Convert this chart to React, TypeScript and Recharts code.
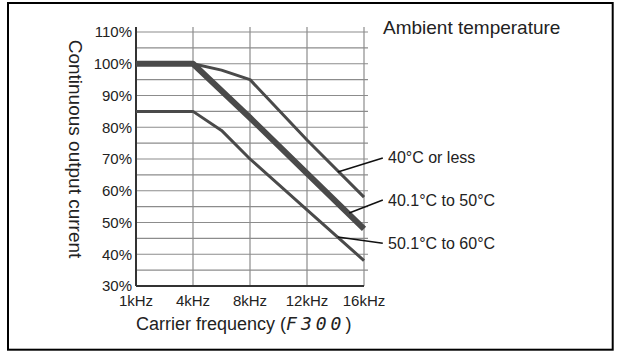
import React from "react";
import { LineChart, Line, XAxis, YAxis, ReferenceLine } from "recharts";

// carrier frequency points; axisPos is the slot on the evenly spaced category axis
const freqLabels = ["1kHz", "4kHz", "8kHz", "12kHz", "16kHz"];
const axisPos = [0, 1, 1.5, 2, 3, 4];

const upTo40 = [100, 100, 98, 95, 76, 58];
const from40to50 = [100, 100, 91.5, 83, 65.5, 48];
const from50to60 = [85, 85, 79, 70, 54, 38];

const yTicks = [30, 40, 50, 60, 70, 80, 90, 100, 110];
const gridY = [35, 40, 45, 50, 55, 60, 65, 70, 75, 80, 85, 90, 95, 100, 105, 110];
const gridX = [1, 2, 3, 4];

// leader lines from the curves to their labels: [x1, y1, x2, y2] in chart units
const leaders = [
  [3.54, 65.9, 4.33, 70.3],
  [3.74, 53.0, 4.33, 57.1],
  [3.54, 45.4, 4.33, 43.5],
];
const seriesNames = ["40°C or less", "40.1°C to 50°C", "50.1°C to 60°C"];

const data = axisPos.map((pos, i) => ({
  pos,
  a: upTo40[i],
  b: from40to50[i],
  c: from50to60[i],
}));

const font = "'Liberation Sans', Arial, sans-serif";
const lineColor = "#4a4a4a";
const gridColor = "#8c8c8c";

export default function App() {
  return (
    <div style={{ position: "absolute", left: 0, top: 0, width: 618, height: 351, background: "#fff" }}>
      <LineChart
        width={618}
        height={351}
        data={data}
        margin={{ top: 32, right: 254, bottom: 0, left: 0 }}
      >
        {gridY.map((v) => (
          <ReferenceLine
            key={"h" + v}
            segment={[{ x: 0, y: v }, { x: 4.07, y: v }]}
            stroke={gridColor}
            strokeWidth={1.2}
            ifOverflow="visible"
          />
        ))}
        {gridX.map((v) => (
          <ReferenceLine
            key={"v" + v}
            segment={[{ x: v, y: 30 }, { x: v, y: 111.6 }]}
            stroke={gridColor}
            strokeWidth={1.2}
            ifOverflow="visible"
          />
        ))}
        <ReferenceLine
          segment={[{ x: 0, y: 30 }, { x: 0, y: 111.6 }]}
          stroke="#333"
          strokeWidth={2}
          ifOverflow="visible"
        />
        <XAxis
          dataKey="pos"
          type="number"
          domain={[0, 4]}
          ticks={[0, 1, 2, 3, 4]}
          tickFormatter={(v: number) => freqLabels[v]}
          height={65}
          tickSize={0}
          tickMargin={9}
          axisLine={{ stroke: "#333", strokeWidth: 2 }}
          tick={{ fontSize: 15, fill: "#222", fontFamily: font }}
          interval={0}
        />
        <YAxis
          type="number"
          domain={[30, 110]}
          ticks={yTicks}
          tickFormatter={(v: number) => v + "%"}
          width={136}
          tickSize={0}
          tickMargin={4}
          axisLine={false}
          tick={{ fontSize: 15, fill: "#222", fontFamily: font }}
          interval={0}
        />
        <Line dataKey="a" stroke={lineColor} strokeWidth={3} dot={false} isAnimationActive={false} strokeLinejoin="round" />
        <Line dataKey="b" stroke={lineColor} strokeWidth={6} dot={false} isAnimationActive={false} strokeLinejoin="round" />
        <Line dataKey="c" stroke={lineColor} strokeWidth={3} dot={false} isAnimationActive={false} strokeLinejoin="round" />
        {leaders.map((s, i) => (
          <ReferenceLine
            key={"l" + i}
            segment={[{ x: s[0], y: s[1] }, { x: s[2], y: s[3] }]}
            stroke="#111"
            strokeWidth={1.5}
            ifOverflow="visible"
          />
        ))}
      </LineChart>
      <svg
        width={618}
        height={351}
        style={{ position: "absolute", left: 0, top: 0, pointerEvents: "none" }}
        fontFamily={font}
      >
        <rect x={8} y={3} width={604.7} height={346.7} fill="none" stroke="#000" strokeWidth={2} />
        <text x={383} y={34} fontSize={19} fill="#222">Ambient temperature</text>
        <text x={388} y={163} fontSize={16} fill="#222">{seriesNames[0]}</text>
        <text x={388} y={206} fontSize={16} fill="#222">{seriesNames[1]}</text>
        <text x={388} y={249} fontSize={16} fill="#222">{seriesNames[2]}</text>
        <text x={136} y={330} fontSize={18} fill="#222">
          Carrier frequency (
          <tspan fontStyle="italic" letterSpacing={4} fontFamily="'DejaVu Sans Mono', monospace" fontWeight={300}>F300</tspan>
          )
        </text>
        <text
          x={75}
          y={149}
          fontSize={19}
          fill="#222"
          textAnchor="middle"
          dominantBaseline="central"
          transform="rotate(90 75 149)"
        >
          Continuous output current
        </text>
      </svg>
    </div>
  );
}
